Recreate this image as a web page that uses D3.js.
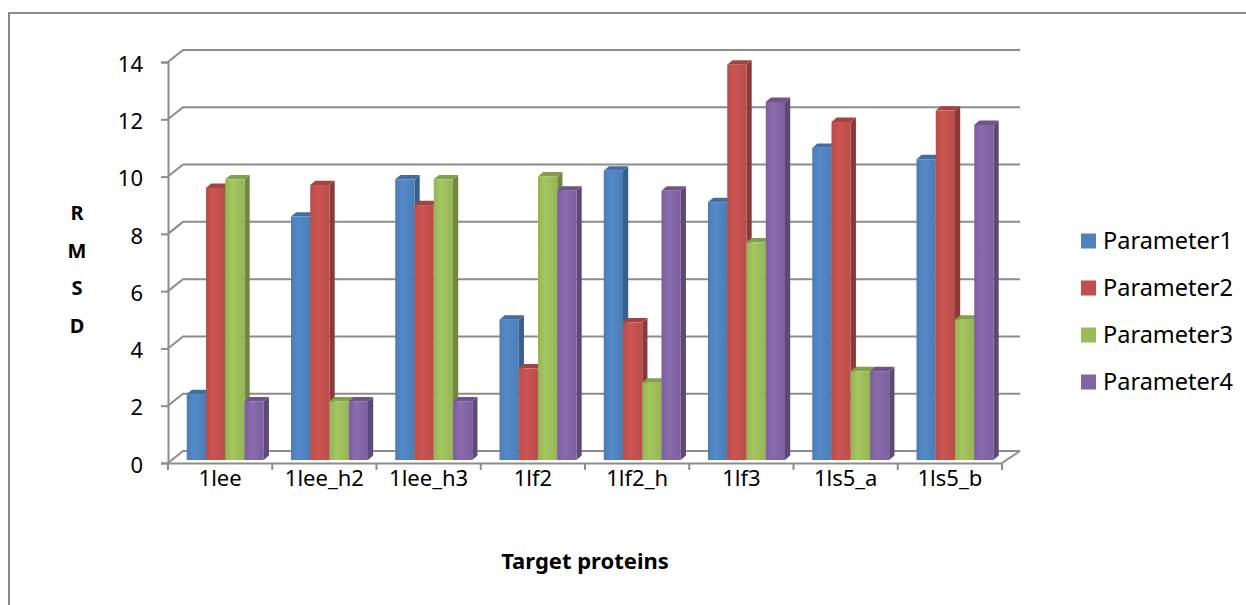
<!DOCTYPE html>
<html>
<head>
<meta charset="utf-8">
<script src="https://cdn.jsdelivr.net/npm/d3@7"></script>
<style>
  html, body { margin: 0; padding: 0; background: #fff; }
  svg { display: block; }
  text { font-family: "Noto Sans", "Open Sans", sans-serif; fill: #000; }
</style>
</head>
<body>
<svg id="chart" width="1246" height="605"></svg>
<script>
// RMSD per target protein for four parameter sets
const categories = ["1lee", "1lee_h2", "1lee_h3", "1lf2", "1lf2_h", "1lf3", "1ls5_a", "1ls5_b"];
const seriesNames = ["Parameter1", "Parameter2", "Parameter3", "Parameter4"];
const parameter1 = [2.3, 8.5, 9.8, 4.9, 10.1, 9.0, 10.9, 10.5];
const parameter2 = [9.5, 9.6, 8.9, 3.2, 4.8, 13.8, 11.8, 12.2];
const parameter3 = [9.8, 2.05, 9.8, 9.9, 2.7, 7.6, 3.1, 4.9];
const parameter4 = [2.05, 2.05, 2.05, 9.4, 9.4, 12.5, 3.1, 11.7];
const yTicks = [0, 2, 4, 6, 8, 10, 12, 14];
const seriesColors = ["#4f81bd", "#c0504d", "#9bbb59", "#8064a2"];

const seriesValues = [parameter1, parameter2, parameter3, parameter4];

const svg = d3.select("#chart");

// frame (only top and left edges fall inside the page)
svg.append("path")
  .attr("d", "M9,610 L9,13 L1250,13")
  .attr("fill", "none").attr("stroke", "#8a8a8a").attr("stroke-width", 2);

// front-plane scales
const x = d3.scaleBand().domain(categories).range([168, 1002]).padding(0);
const xs = d3.scaleBand().domain(seriesNames).range([15, 92]).padding(0);
const y = d3.scaleLinear().domain([0, 14]).range([463, 62]);

// oblique depth of the plot box
const DX = 15, DY = -12;
const gridColor = "#8c8c8c";

const defs = svg.append("defs");
seriesColors.forEach((c, i) => {
  const base = d3.color(c);
  const g = defs.append("linearGradient").attr("id", "front" + i)
    .attr("x1", "0%").attr("x2", "100%").attr("y1", "0%").attr("y2", "0%");
  g.append("stop").attr("offset", "0%").attr("stop-color", base.darker(0.12));
  g.append("stop").attr("offset", "38%").attr("stop-color", base.brighter(0.18));
  g.append("stop").attr("offset", "100%").attr("stop-color", base.darker(0.1));
});

// walls: gridlines along back wall plus left wall diagonals
const grid = svg.append("g").attr("fill", "none").attr("stroke", gridColor).attr("stroke-width", 2);
yTicks.forEach(t => {
  const yf = y(t);
  grid.append("path")
    .attr("d", `M168,${yf} L${168 + DX},${yf + DY} L${x.range()[1] + DX + 3},${yf + DY}`);
});
// floor right edge
grid.append("path")
  .attr("d", `M${x.range()[1]},${y(0)} L${x.range()[1] + DX + 3},${y(0) + DY}`);

// value axis on the front plane
const yAxis = svg.append("g")
  .attr("transform", "translate(168,0)")
  .call(d3.axisLeft(y).tickValues(yTicks).tickSize(7).tickPadding(18).tickFormat(d3.format("d")));
yAxis.select(".domain").attr("stroke", gridColor).attr("stroke-width", 2);
yAxis.selectAll(".tick line").attr("stroke", gridColor).attr("stroke-width", 2);
yAxis.selectAll(".tick text")
  .style("font-family", "'Noto Sans', sans-serif").attr("font-size", 22).attr("fill", "#000")
  .attr("dy", "0.42em");

// category axis
const xAxis = svg.append("g")
  .attr("transform", `translate(0,${y(0)})`)
  .call(d3.axisBottom(x).tickSize(0).tickPadding(7));
xAxis.select(".domain").attr("stroke", gridColor).attr("stroke-width", 2);
xAxis.selectAll(".tick text")
  .style("font-family", "'Noto Sans', sans-serif").attr("font-size", 22).attr("fill", "#000");
// tick marks between categories
const edges = categories.map(c => x(c)).concat([x.range()[1]]);
xAxis.selectAll(".edge").data(edges).enter().append("line")
  .attr("class", "edge")
  .attr("x1", d => d).attr("x2", d => d).attr("y1", 0).attr("y2", 7)
  .attr("stroke", gridColor).attr("stroke-width", 2);

// 3D columns: front face pushed a quarter into the depth, with a thin side and top
const fx = DX * 0.25, fy = DY * 0.25;
const bx = 5.2, by = -4.4;
const bars = svg.append("g");
categories.forEach((cat, ci) => {
  seriesNames.forEach((s, si) => {
    const v = seriesValues[si][ci];
    const x0 = x(cat) + xs(s) + fx;
    const x1 = x0 + xs.bandwidth();
    const yt = y(v) + fy;
    const yb = y(0) + fy;
    const base = d3.color(seriesColors[si]);
    const g = bars.append("g");
    // side face
    g.append("path")
      .attr("d", `M${x1},${yb} L${x1 + bx},${yb + by} L${x1 + bx},${yt + by} L${x1},${yt} Z`)
      .attr("fill", base.darker(0.9));
    // top face
    g.append("path")
      .attr("d", `M${x0},${yt} L${x0 + bx},${yt + by} L${x1 + bx},${yt + by} L${x1},${yt} Z`)
      .attr("fill", base.darker(0.45));
    // front face
    g.append("rect")
      .attr("x", x0).attr("y", yt)
      .attr("width", xs.bandwidth()).attr("height", yb - yt)
      .attr("fill", `url(#front${si})`);
  });
});

// axis titles
svg.append("text")
  .attr("x", 585).attr("y", 569)
  .attr("text-anchor", "middle")
  .attr("font-size", 22).attr("font-weight", "bold")
  .text("Target proteins");

const rmsd = ["R", "M", "S", "D"];
svg.append("g").selectAll("text").data(rmsd).enter().append("text")
  .attr("x", 77)
  .attr("y", (d, i) => 220 + i * 37.5)
  .attr("text-anchor", "middle")
  .attr("font-size", 20).attr("font-weight", "bold")
  .text(d => d);

// legend
const legend = svg.append("g");
seriesNames.forEach((s, i) => {
  const ly = 241 + i * 47;
  legend.append("rect")
    .attr("x", 1081).attr("y", ly - 7.5).attr("width", 15).attr("height", 15)
    .attr("fill", seriesColors[i]);
  legend.append("text")
    .attr("x", 1103).attr("y", ly + 8)
    .attr("font-size", 23.5)
    .text(s);
});
</script>
</body>
</html>
